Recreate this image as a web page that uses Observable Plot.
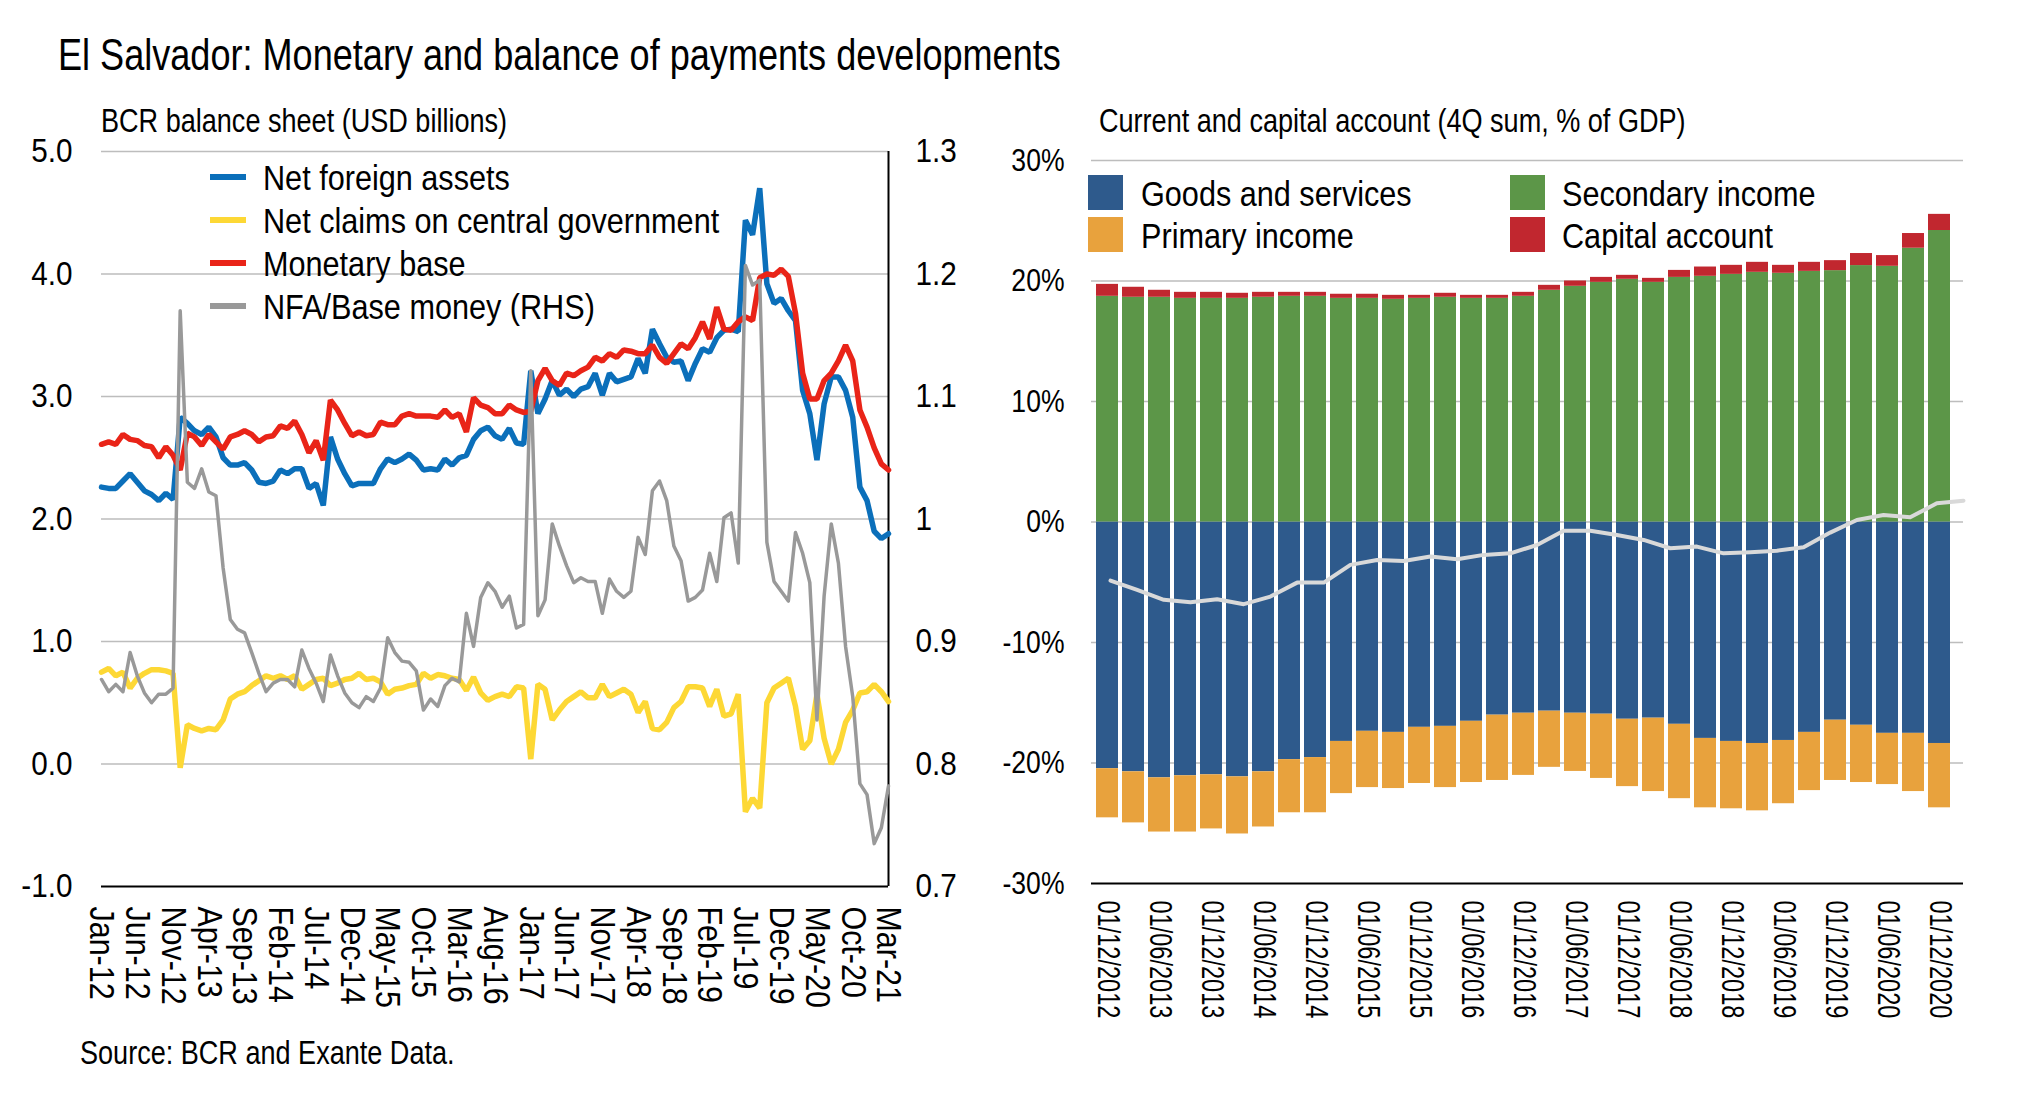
<!DOCTYPE html>
<html><head><meta charset="utf-8">
<script src="https://cdn.jsdelivr.net/npm/d3@7"></script>
<script src="https://cdn.jsdelivr.net/npm/@observablehq/plot@0.6"></script>
<style>
body{margin:0;background:#fff;width:2032px;height:1100px;overflow:hidden;position:relative;font-family:"Liberation Sans",Arial,sans-serif;color:#000}
.abs{position:absolute;white-space:nowrap;line-height:1;transform-origin:0 0}
.sw{position:absolute}
</style></head><body>
<div class="abs" style="left:58px;top:33px;font-size:44px;transform:scaleX(0.82)">El Salvador: Monetary and balance of payments developments</div>
<div class="abs" style="left:101px;top:104px;font-size:33px;transform:scaleX(0.82)">BCR balance sheet (USD billions)</div>
<div class="abs" style="left:1099px;top:104px;font-size:33px;transform:scaleX(0.82)">Current and capital account (4Q sum, % of GDP)</div>
<div class="abs" style="left:80px;top:1036px;font-size:33px;transform:scaleX(0.82)">Source: BCR and Exante Data.</div>
<div id="left" style="position:absolute;left:0;top:140px"></div>
<div id="right" style="position:absolute;left:1000px;top:140px"></div>
<div id="rightline" style="position:absolute;left:1000px;top:140px"></div>
<div id="legL"></div>
<div id="legR"></div>
<script>
const FONT = '"Liberation Sans",Arial,sans-serif';

// ---------- Left chart data (monthly, Jan-12 .. Mar-21) ----------
const netForeignAssets = [2.26,2.25,2.25,2.31,2.37,2.30,2.23,2.20,2.15,2.21,2.16,2.83,2.78,2.72,2.69,2.75,2.67,2.50,2.44,2.44,2.46,2.40,2.30,2.29,2.31,2.40,2.37,2.41,2.41,2.25,2.29,2.11,2.67,2.49,2.37,2.27,2.29,2.29,2.29,2.41,2.49,2.46,2.49,2.53,2.48,2.40,2.41,2.40,2.49,2.44,2.50,2.52,2.65,2.72,2.75,2.68,2.65,2.74,2.62,2.61,3.21,2.86,2.98,3.13,3.01,3.06,3.00,3.06,3.08,3.19,3.01,3.19,3.12,3.14,3.16,3.31,3.19,3.55,3.43,3.32,3.28,3.29,3.13,3.27,3.39,3.36,3.48,3.54,3.55,3.53,4.44,4.32,4.70,3.92,3.76,3.80,3.70,3.62,3.05,2.86,2.48,2.94,3.16,3.16,3.05,2.83,2.26,2.15,1.90,1.84,1.88];
const netClaimsGov = [0.75,0.78,0.72,0.75,0.62,0.70,0.74,0.77,0.77,0.76,0.74,-0.03,0.32,0.29,0.27,0.29,0.28,0.36,0.53,0.57,0.59,0.64,0.68,0.72,0.70,0.72,0.69,0.72,0.61,0.65,0.69,0.70,0.64,0.66,0.69,0.70,0.74,0.69,0.70,0.67,0.57,0.61,0.62,0.64,0.65,0.74,0.70,0.73,0.72,0.70,0.69,0.60,0.71,0.58,0.52,0.55,0.57,0.55,0.63,0.62,0.04,0.65,0.61,0.36,0.44,0.51,0.55,0.59,0.54,0.54,0.65,0.55,0.58,0.61,0.57,0.42,0.51,0.29,0.28,0.34,0.46,0.51,0.63,0.63,0.62,0.47,0.61,0.39,0.41,0.57,-0.39,-0.28,-0.36,0.50,0.62,0.66,0.70,0.47,0.12,0.19,0.57,0.21,0.00,0.12,0.34,0.44,0.58,0.59,0.65,0.59,0.51];
const monetaryBase = [2.61,2.63,2.61,2.69,2.65,2.64,2.60,2.59,2.50,2.59,2.52,2.40,2.70,2.67,2.60,2.69,2.63,2.57,2.67,2.69,2.72,2.69,2.63,2.67,2.68,2.76,2.74,2.80,2.69,2.54,2.64,2.48,2.97,2.89,2.78,2.68,2.71,2.68,2.69,2.79,2.77,2.77,2.84,2.86,2.84,2.84,2.84,2.83,2.89,2.83,2.86,2.71,2.99,2.93,2.91,2.86,2.86,2.93,2.89,2.87,2.88,3.13,3.23,3.13,3.09,3.19,3.17,3.21,3.24,3.32,3.29,3.35,3.32,3.38,3.37,3.35,3.35,3.42,3.32,3.27,3.35,3.43,3.39,3.48,3.61,3.47,3.73,3.55,3.54,3.61,3.65,3.62,3.97,4.00,3.99,4.04,3.98,3.68,3.19,2.98,2.98,3.13,3.19,3.29,3.42,3.29,2.89,2.75,2.58,2.45,2.40];
const nfaBaseRatio = [0.869,0.859,0.865,0.859,0.891,0.872,0.858,0.850,0.857,0.857,0.862,1.170,1.030,1.025,1.041,1.022,1.019,0.960,0.918,0.910,0.907,0.891,0.874,0.859,0.866,0.869,0.869,0.863,0.893,0.878,0.866,0.851,0.889,0.872,0.858,0.850,0.846,0.855,0.851,0.862,0.903,0.891,0.884,0.883,0.876,0.844,0.853,0.847,0.864,0.870,0.867,0.923,0.896,0.936,0.948,0.941,0.928,0.937,0.911,0.914,1.121,0.921,0.934,0.996,0.978,0.962,0.948,0.952,0.949,0.949,0.923,0.951,0.941,0.936,0.941,0.985,0.971,1.023,1.031,1.015,0.978,0.966,0.933,0.936,0.942,0.972,0.949,1.001,1.005,0.964,1.207,1.191,1.195,0.981,0.949,0.941,0.933,0.989,0.972,0.948,0.836,0.937,0.996,0.964,0.896,0.855,0.784,0.775,0.735,0.748,0.782];
const leftTickLabels = ["Jan-12","Jun-12","Nov-12","Apr-13","Sep-13","Feb-14","Jul-14","Dec-14","May-15","Oct-15","Mar-16","Aug-16","Jan-17","Jun-17","Nov-17","Apr-18","Sep-18","Feb-19","Jul-19","Dec-19","May-20","Oct-20","Mar-21"];
const leftYTicks = [-1,0,1,2,3,4,5];
const rhsTicks = [0.7,0.8,0.9,1.0,1.1,1.2,1.3];
const rhsTickLabels = ["0.7","0.8","0.9","1","1.1","1.2","1.3"];

// ---------- Right chart data (quarterly) ----------
const quarters = ["01/12/2012","01/03/2013","01/06/2013","01/09/2013","01/12/2013","01/03/2014","01/06/2014","01/09/2014","01/12/2014","01/03/2015","01/06/2015","01/09/2015","01/12/2015","01/03/2016","01/06/2016","01/09/2016","01/12/2016","01/03/2017","01/06/2017","01/09/2017","01/12/2017","01/03/2018","01/06/2018","01/09/2018","01/12/2018","01/03/2019","01/06/2019","01/09/2019","01/12/2019","01/03/2020","01/06/2020","01/09/2020","01/12/2020"];
const goodsServices = [-20.47,-20.73,-21.23,-21.06,-20.98,-21.15,-20.73,-19.72,-19.55,-18.21,-17.37,-17.46,-17.04,-16.96,-16.54,-16.03,-15.87,-15.70,-15.87,-15.95,-16.37,-16.28,-16.79,-17.96,-18.21,-18.38,-18.13,-17.46,-16.45,-16.87,-17.54,-17.54,-18.38];
const primaryIncome = [-4.08,-4.24,-4.50,-4.67,-4.49,-4.74,-4.58,-4.41,-4.58,-4.33,-4.67,-4.66,-4.66,-5.08,-5.08,-5.42,-5.16,-4.66,-4.83,-5.33,-5.59,-6.09,-6.17,-5.76,-5.59,-5.59,-5.25,-4.83,-5.00,-4.75,-4.25,-4.83,-5.34];
const secondaryIncome = [18.73,18.65,18.65,18.56,18.56,18.56,18.65,18.73,18.73,18.56,18.56,18.48,18.56,18.65,18.56,18.56,18.73,19.23,19.56,19.89,20.14,19.89,20.30,20.39,20.55,20.72,20.64,20.80,20.86,21.28,21.22,22.72,24.19];
const capitalAccount = [0.99,0.83,0.58,0.50,0.50,0.42,0.41,0.33,0.33,0.34,0.34,0.33,0.25,0.33,0.25,0.25,0.33,0.41,0.44,0.41,0.33,0.33,0.58,0.77,0.75,0.83,0.66,0.75,0.83,1.00,0.89,1.22,1.34];
const totalBalance = [-4.86,-5.64,-6.46,-6.66,-6.41,-6.82,-6.19,-5.03,-5.03,-3.56,-3.15,-3.23,-2.87,-3.09,-2.73,-2.60,-1.91,-0.72,-0.72,-1.08,-1.49,-2.18,-2.04,-2.60,-2.51,-2.38,-2.10,-0.88,0.17,0.58,0.39,1.55,1.77];
const rightYTicks = [-30,-20,-10,0,10,20,30];
const seriesNames = ["Goods and services","Primary income","Secondary income","Capital account"];
const seriesColors = ["#2e5a8c","#e8a23d","#5c9648","#c1272f"];

// condense SVG tick text horizontally (the original uses a narrow typeface)
function condense(svg, label, s) {
  svg.querySelectorAll(`g[aria-label="${label}"] text`).forEach(t => {
    const tr = t.getAttribute("transform") || "";
    t.setAttribute("transform", `${tr} scale(${s},1)`);
  });
}

// ---------- Left chart ----------
const toLeft = r => (r - 0.8) * 10; // secondary (RHS) axis mapped onto left scale
const rows = (arr) => arr.map((v, i) => ({i, v}));
const left = Plot.plot({
  width: 1000, height: 880,
  marginLeft: 101, marginRight: 112, marginTop: 11, marginBottom: 134,
  x: {type: "linear", domain: [0, netForeignAssets.length - 1]},
  y: {domain: [-1, 5]},
  style: {fontFamily: FONT, fontSize: "33px", background: "transparent", color: "#000", overflow: "visible"},
  marks: [
    Plot.ruleY(leftYTicks.filter(d => d > -1), {stroke: "#bdbdbd", strokeWidth: 1.5}),
    Plot.ruleY([-1], {stroke: "#000", strokeWidth: 2}),
    Plot.ruleX([netForeignAssets.length - 1], {stroke: "#000", strokeWidth: 2}),
    Plot.axisY({ticks: leftYTicks, tickSize: 0, tickPadding: 29, tickFormat: d => d.toFixed(1), label: null, fontSize: 33}),
    Plot.axisY({anchor: "right", ticks: rhsTicks.map(toLeft), tickSize: 0, tickPadding: 27, label: null, fontSize: 33,
      tickFormat: d => rhsTickLabels[rhsTicks.findIndex(r => Math.abs(toLeft(r) - d) < 1e-6)]}),
    Plot.axisX({ticks: leftTickLabels.map((_, j) => j * 5), tickFormat: d => leftTickLabels[Math.round(d / 5)],
      tickRotate: 90, tickSize: 0, tickPadding: 20, label: null, fontSize: 35}),
    Plot.line(rows(netForeignAssets), {x: "i", y: "v", stroke: "#0b6fba", strokeWidth: 5.5, strokeLinejoin: "miter"}),
    Plot.line(rows(netClaimsGov), {x: "i", y: "v", stroke: "#fdd835", strokeWidth: 5.5, strokeLinejoin: "miter"}),
    Plot.line(rows(monetaryBase), {x: "i", y: "v", stroke: "#e92418", strokeWidth: 5.5, strokeLinejoin: "miter"}),
    Plot.line(nfaBaseRatio.map((r, i) => ({i, v: toLeft(r)})), {x: "i", y: "v", stroke: "#999999", strokeWidth: 3.5})
  ]
});
condense(left, "y-axis tick label", 0.9);
condense(left, "x-axis tick label", 0.87);
document.getElementById("left").appendChild(left);

// ---------- Right chart ----------
const barData = [];
quarters.forEach((q, k) => {
  barData.push({q, s: seriesNames[0], v: goodsServices[k]});
  barData.push({q, s: seriesNames[1], v: primaryIncome[k]});
  barData.push({q, s: seriesNames[2], v: secondaryIncome[k]});
  barData.push({q, s: seriesNames[3], v: capitalAccount[k]});
});
const right = Plot.plot({
  width: 1032, height: 880,
  marginLeft: 91, marginRight: 69, marginTop: 20, marginBottom: 137,
  x: {type: "band", domain: quarters, paddingInner: 0.16, paddingOuter: 0.1265, align: 0.27},
  y: {domain: [-30, 30]},
  color: {domain: seriesNames, range: seriesColors},
  style: {fontFamily: FONT, fontSize: "32px", background: "transparent", color: "#000", overflow: "visible"},
  marks: [
    Plot.ruleY(rightYTicks.filter(d => d > -30), {stroke: "#bdbdbd", strokeWidth: 1.5}),
    Plot.barY(barData, {x: "q", y: "v", fill: "s", z: "s", order: seriesNames}),
    Plot.ruleY([-30], {stroke: "#000", strokeWidth: 2}),
    Plot.axisY({ticks: rightYTicks, tickSize: 0, tickPadding: 27, tickFormat: d => d + "%", label: null, fontSize: 32}),
    Plot.axisX({ticks: quarters.filter((_, k) => k % 2 === 0), tickRotate: 90, tickSize: 0, tickPadding: 17, label: null, fontSize: 31})
  ]
});
condense(right, "y-axis tick label", 0.83);
condense(right, "x-axis tick label", 0.76);
document.getElementById("right").appendChild(right);

// line drawn on its own (secondary) category axis, as in the original
const rightLine = Plot.plot({
  width: 1032, height: 880,
  marginLeft: 110, marginRight: 69, marginTop: 20, marginBottom: 137,
  x: {type: "linear", domain: [0, quarters.length - 1], axis: null},
  y: {domain: [-30, 30], axis: null},
  style: {background: "transparent", overflow: "visible"},
  marks: [
    Plot.line(totalBalance.map((v, k) => ({k, v})), {x: "k", y: "v", stroke: "#d9d9d9", strokeWidth: 4})
  ]
});
document.getElementById("rightline").appendChild(rightLine);

// ---------- Legends ----------
const legL = [
  {label: "Net foreign assets", color: "#0b6fba"},
  {label: "Net claims on central government", color: "#fdd835"},
  {label: "Monetary base", color: "#e92418"},
  {label: "NFA/Base money (RHS)", color: "#999999"}
];
const rowY = [177, 220, 263, 306];
const LL = document.getElementById("legL");
legL.forEach((d, j) => {
  const sw = document.createElement("div");
  sw.className = "sw";
  sw.style.cssText = `left:210px;top:${rowY[j] - 3}px;width:36px;height:6px;background:${d.color}`;
  LL.appendChild(sw);
  const t = document.createElement("div");
  t.className = "abs";
  t.style.cssText = `left:263px;top:${rowY[j] - 17}px;font-size:35px;transform:scaleX(0.875)`;
  t.textContent = d.label;
  LL.appendChild(t);
});
const legRpos = [
  {x: 1088, y: 175, tx: 1141},
  {x: 1088, y: 217, tx: 1141},
  {x: 1510, y: 175, tx: 1562},
  {x: 1510, y: 217, tx: 1562}
];
const LR = document.getElementById("legR");
seriesNames.forEach((name, j) => {
  const p = legRpos[j];
  const sw = document.createElement("div");
  sw.className = "sw";
  sw.style.cssText = `left:${p.x}px;top:${p.y}px;width:35px;height:35px;background:${seriesColors[j]}`;
  LR.appendChild(sw);
  const t = document.createElement("div");
  t.className = "abs";
  t.style.cssText = `left:${p.tx}px;top:${p.y + 0.5}px;font-size:35px;transform:scaleX(0.875)`;
  t.textContent = name;
  LR.appendChild(t);
});
</script>
</body></html>
